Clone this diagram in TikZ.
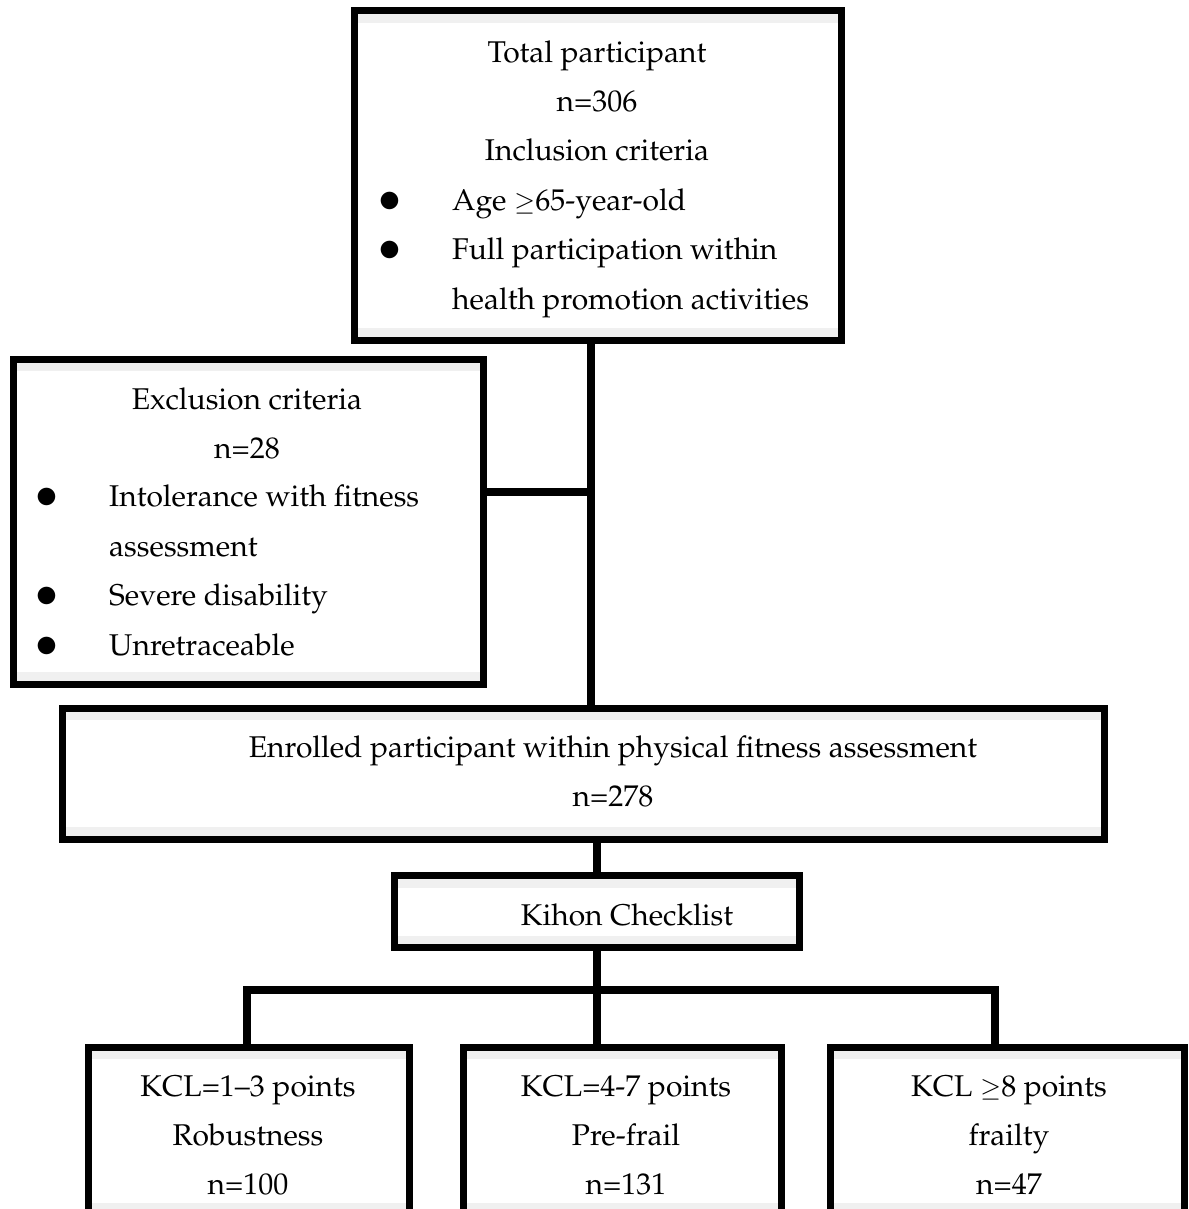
\documentclass[tikz,border=0pt]{standalone}
\usepackage[T1]{fontenc}
\usepackage{mathpazo}
\usetikzlibrary{calc}
\definecolor{FlowBand}{RGB}{240,240,240}
\newcommand{\flowbullet}{\makebox[71pt][l]{\hspace*{-7pt}\raisebox{-8pt}{\scalebox{1.7}{\textbullet}}}}
\newcommand{\flowgeq}{\scalebox{0.85}{$\geq$}}
\tikzset{
  flow/box/.style={
    draw=black,
    line width=7pt,
    fill=white,
    inner sep=0pt,
    path picture={
      \fill[FlowBand] (path picture bounding box.north west) rectangle ([yshift=-12pt]path picture bounding box.north east);
      \fill[FlowBand] (path picture bounding box.south west) rectangle ([yshift=12pt]path picture bounding box.south east);
    }
  },
  flow/text/.style={align=center, inner sep=0pt, font=\fontsize{30}{49}\selectfont},
  flow/list/.style={align=left, inner sep=0pt, anchor=west, font=\fontsize{30}{49.5}\selectfont},
  flow/link/.style={draw=black, line width=8pt}
}
\begin{document}
\begin{tikzpicture}[x=1pt,y=-1pt]
  \clip (0,0) rectangle (1188,1209);
  % boxes
  \node[flow/box,minimum width=487pt,minimum height=329pt] (total) at (597.5,175.5) {};
  \node[flow/box,minimum width=470pt,minimum height=325pt] (excl) at (248,521.5) {};
  \node[flow/box,minimum width=1042pt,minimum height=131pt] (enrolled) at (583.5,773.5) {};
  \node[flow/box,minimum width=405pt,minimum height=72pt] (kihon) at (597,911.5) {};
  \node[flow/box,minimum width=321pt,minimum height=168pt] (kcl1) at (248.5,1131) {};
  \node[flow/box,minimum width=318pt,minimum height=168pt] (kcl2) at (622,1131) {};
  \node[flow/box,minimum width=354pt,minimum height=168pt] (kcl3) at (1007,1131) {};
  % texts
  \node[flow/text] (totalhead) at (597,101) {Total participant\\n=306\\Inclusion criteria};
  \node[flow/list] (inclist) at (381,253) {\flowbullet Age \flowgeq65-year-old\\\flowbullet Full participation within\\\hspace*{71pt}health promotion activities};
  \node[flow/text] (exclhead) at (247,423) {Exclusion criteria\\n=28};
  \node[flow/list] (excllist) at (38,574) {\flowbullet Intolerance with fitness\\\hspace*{71pt}assessment\\\flowbullet Severe disability\\\flowbullet Unretraceable};
  \node[flow/text] (enrolledtxt) at (613,771) {Enrolled participant within physical fitness assessment\\n=278};
  \node[flow/text] (kihontxt) at (627,915) {Kihon Checklist};
  \node[flow/text] (kcl1txt) at (248,1135) {KCL=1--3 points\\Robustness\\n=100};
  \node[flow/text] (kcl2txt) at (626,1135) {KCL=4-7 points\\Pre-frail\\n=131};
  \node[flow/text] (kcl3txt) at (1009,1135) {KCL \flowgeq8 points\\frailty\\n=47};
  % connectors
  \coordinate (trunk) at (591,492);
  \coordinate (busL) at (247,990);
  \coordinate (busR) at (995,990);
  \draw[flow/link] (total.south -| trunk) -- (enrolled.north -| trunk);
  \draw[flow/link] (excl.east |- trunk) -- (trunk);
  \draw[flow/link] (kihon.north) -- (kihon.north |- enrolled.south);
  \draw[flow/link] (kihon.south) -- (kcl2.north -| kihon.south);
  \draw[flow/link] (kcl1.north -| busL) -- (busL) -- (busR) -- (kcl3.north -| busR);
\end{tikzpicture}
\end{document}
